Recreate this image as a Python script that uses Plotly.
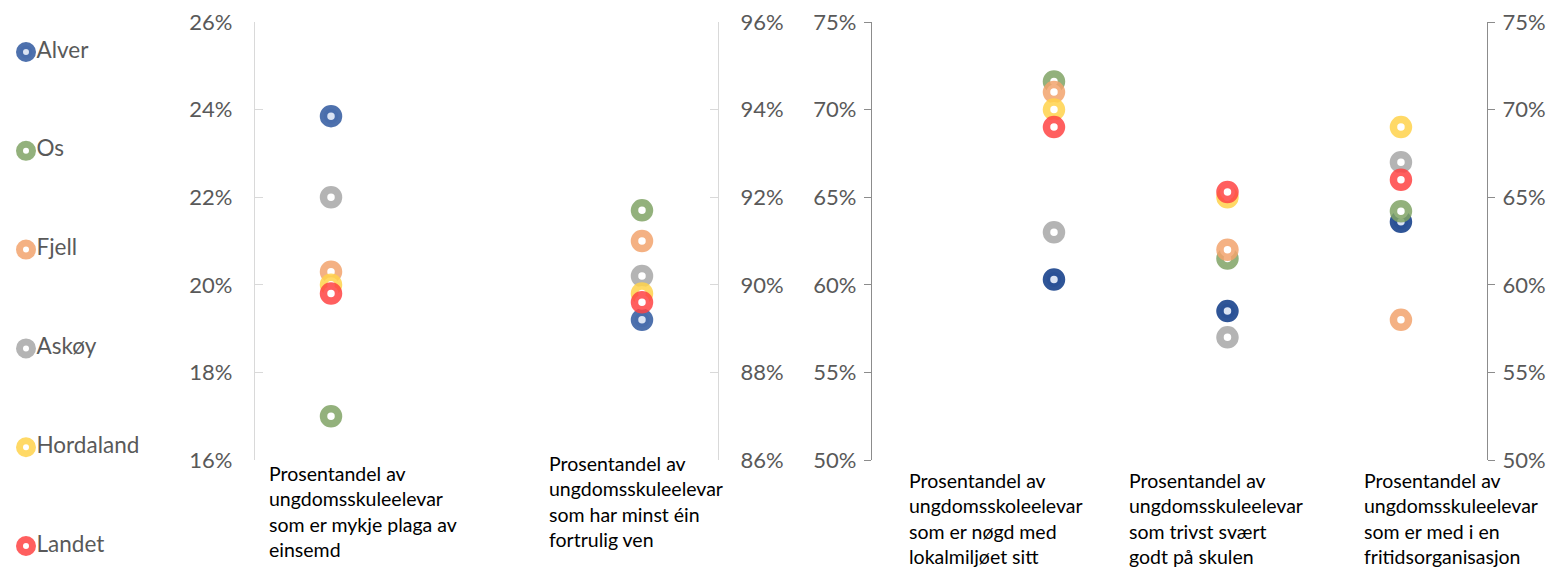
import plotly.graph_objects as go

# ---------------- data ----------------
series = ["Alver", "Os", "Fjell", "Askøy", "Hordaland", "Landet"]

categories = [
    "Prosentandel av<br>ungdomsskuleelevar<br>som er mykje plaga av<br>einsemd",
    "Prosentandel av<br>ungdomsskuleelevar<br>som har minst éin<br>fortrulig ven",
    "Prosentandel av<br>ungdomsskoleelevar<br>som er nøgd med<br>lokalmiljøet sitt",
    "Prosentandel av<br>ungdomsskuleelevar<br>som trivst svært<br>godt på skulen",
    "Prosentandel av<br>ungdomsskuleelevar<br>som er med i en<br>fritidsorganisasjon",
]

# values per category, in series order (Alver, Os, Fjell, Askøy, Hordaland, Landet)
einsemd      = [0.2385, 0.170, 0.203, 0.220, 0.200, 0.198]
fortrulig    = [0.892, 0.917, 0.910, 0.902, 0.898, 0.896]
lokalmiljo   = [0.603, 0.716, 0.710, 0.630, 0.700, 0.690]
trivst       = [0.585, 0.615, 0.620, 0.570, 0.650, 0.653]
fritid       = [0.636, 0.642, 0.580, 0.670, 0.690, 0.660]

ticks_left1  = [0.16, 0.18, 0.20, 0.22, 0.24, 0.26]
ticks_right1 = [0.86, 0.88, 0.90, 0.92, 0.94, 0.96]
ticks_panel2 = [0.50, 0.55, 0.60, 0.65, 0.70, 0.75]

# ---------------- style ----------------
W, H = 1555, 573
FONT = "Lato"
TICK_COLOR = "#595959"
ALPHA = 0.85

colors_left = ["#4e71ad", "#93b17c", "#f4b183", "#b4b4b4", "#ffd966", "#ff5f5f"]
colors_right = ["#2f5597", "#93b17c", "#f4b183", "#b4b4b4", "#ffd966", "#ff5f5f"]
holes = ["#dae3f3", "white", "white", "white", "white", "white"]


def rgba(hexcol, a=ALPHA):
    h = hexcol.lstrip("#")
    r, g, b = (int(h[i:i + 2], 16) for i in (0, 2, 4))
    base = [max(0, min(255, round((c - 255 * (1 - a)) / a))) for c in (r, g, b)]
    return f"rgba({base[0]},{base[1]},{base[2]},{a})"


def px_x(p):
    return p / W


def px_y(p):
    return 1 - p / H


fig = go.Figure()


def add(xs, ys, i, xa, ya, colors, size=15, lw=7.5):
    fig.add_trace(go.Scatter(
        x=xs, y=ys, xaxis=xa, yaxis=ya, mode="markers", name=series[i],
        showlegend=False, hoverinfo="y+name",
        marker=dict(symbol="circle", size=size, color=holes[i],
                    line=dict(color=rgba(colors[i]), width=lw)),
    ))


for i in range(len(series)):
    add([0], [einsemd[i]], i, "x", "y", colors_left)
    add([1], [fortrulig[i]], i, "x", "y2", colors_left)
    add([0, 1], [lokalmiljo[i], trivst[i]], i, "x2", "y3", colors_right)
    add([2], [fritid[i]], i, "x2", "y4", colors_right)

# manual legend
fig.add_trace(go.Scatter(
    x=[0] * len(series), y=list(range(len(series))), xaxis="x3", yaxis="y5",
    mode="markers+text", text=["\u200a" + s for s in series], textposition="middle right",
    textfont=dict(family=FONT, size=22.5, color=TICK_COLOR),
    showlegend=False, hoverinfo="text", cliponaxis=False,
    marker=dict(symbol="circle", size=13, color=holes,
                line=dict(color=[rgba(c) for c in colors_left], width=7)),
))

ytop, ybot = 22, 460
ydom = [px_y(ybot), px_y(ytop)]

axis_common = dict(showgrid=False, zeroline=False, tickformat=".0%",
                   tickfont=dict(family=FONT, size=22, color=TICK_COLOR),
                   showline=True, linewidth=1.3, automargin=False)

fig.update_layout(
    width=W, height=H,
    margin=dict(l=0, r=0, t=0, b=0, pad=0, autoexpand=False),
    paper_bgcolor="white", plot_bgcolor="rgba(0,0,0,0)",
    font=dict(family=FONT, color="black"),
    xaxis=dict(domain=[px_x(255), px_x(718)], range=[-0.2444, 1.2444],
               visible=False, anchor="y", automargin=False),
    yaxis=dict(domain=ydom, anchor="x", side="left", range=[0.16, 0.26],
               tickvals=ticks_left1, ticks="inside", ticklen=8,
               linecolor="#d9d9d9", tickcolor="#d9d9d9", ticklabelstandoff=17,
               **axis_common),
    yaxis2=dict(overlaying="y", anchor="x", side="right", range=[0.86, 0.96],
                tickvals=ticks_right1, ticks="inside", ticklen=8,
                linecolor="#d9d9d9", tickcolor="#d9d9d9", ticklabelstandoff=17,
                **axis_common),
    xaxis2=dict(domain=[px_x(872), px_x(1487)], range=[-1.049, 2.496],
                visible=False, anchor="y3", automargin=False),
    yaxis3=dict(domain=ydom, anchor="x2", side="left", range=[0.50, 0.75],
                tickvals=ticks_panel2, ticks="outside", ticklen=7,
                linecolor="#8c8c8c", tickcolor="#8c8c8c", ticklabelstandoff=3,
                **axis_common),
    yaxis4=dict(overlaying="y3", anchor="x2", side="right", range=[0.50, 0.75],
                tickvals=ticks_panel2, ticks="outside", ticklen=7,
                linecolor="#8c8c8c", tickcolor="#8c8c8c", ticklabelstandoff=3,
                **axis_common),
    xaxis3=dict(domain=[0, 0.1], range=[-26, 129.5], visible=False, anchor="y5",
                automargin=False),
    yaxis5=dict(domain=[0, 1], range=[5.273, -0.5263], visible=False, anchor="x3",
                automargin=False),
)

# category labels (left aligned text blocks under each category)
label_x = [268, 548, 908, 1128, 1363]
label_top = [461, 451, 468, 468, 468]
for txt, lx, ly in zip(categories, label_x, label_top):
    fig.add_annotation(
        text=txt, xref="paper", yref="paper", x=px_x(lx), y=px_y(ly),
        xanchor="left", yanchor="top", align="left", showarrow=False,
        font=dict(family=FONT, size=19.5, color="black"), borderpad=0,
    )

fig.write_html(
    "out.html",
    config={"displayModeBar": False},
    post_script="document.body.style.margin='0';document.body.style.overflow='hidden';",
)
